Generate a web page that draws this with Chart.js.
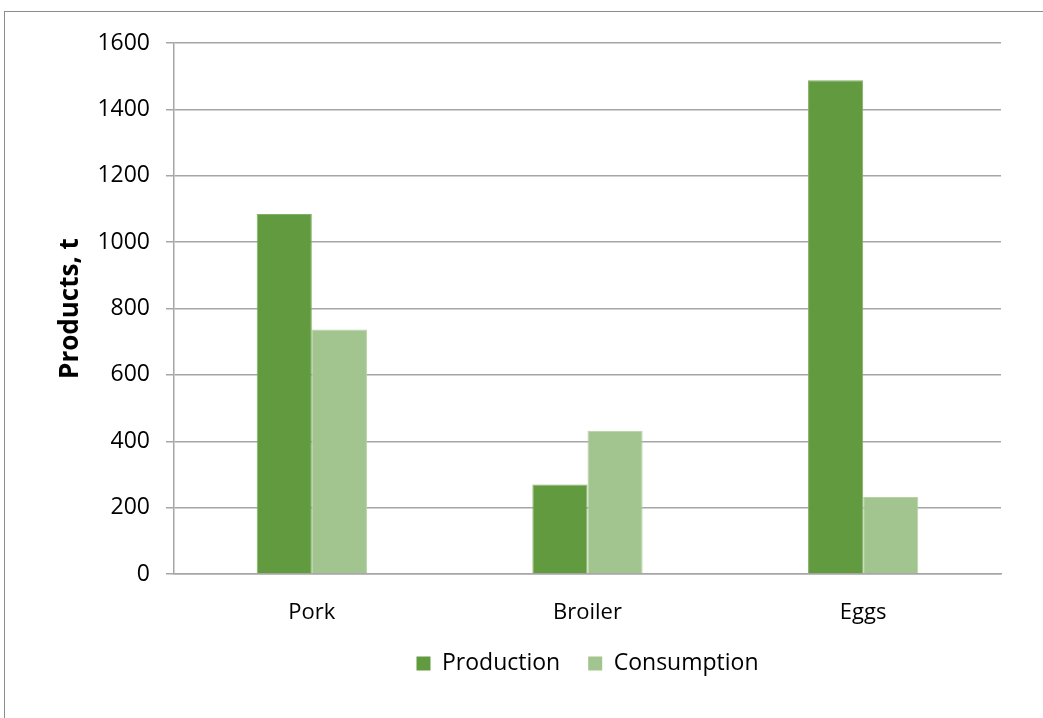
<!DOCTYPE html>
<html>
<head>
<meta charset="utf-8">
<script src="https://cdn.jsdelivr.net/npm/chart.js@4"></script>
<style>
  html, body { margin: 0; padding: 0; background: #fff; overflow: hidden; }
  #frame { position: absolute; left: 4px; top: 11px; width: 1200px; height: 900px; border: 1px solid #8c8c8c; }
  #wrap { position: absolute; left: 0; top: 0; width: 1043px; height: 718px; }
</style>
</head>
<body>
<div id="frame"></div>
<div id="wrap"><canvas id="chart"></canvas></div>
<script>
const categorias = ['Pork', 'Broiler', 'Eggs'];
const producao = [1085, 270, 1488];
const consumo = [737, 432, 232];
const yTicks = [0, 200, 400, 600, 800, 1000, 1200, 1400, 1600];

const fontFamily = "'Open Sans', sans-serif";
const gridColor = '#a6a6a6';

new Chart(document.getElementById('chart'), {
  type: 'bar',
  data: {
    labels: categorias,
    datasets: [
      {
        label: 'Production',
        data: producao,
        backgroundColor: '#629a40',
        borderColor: '#82b065',
        borderWidth: 1,
        categoryPercentage: 0.4,
        barPercentage: 1.0,
      },
      {
        label: 'Consumption',
        data: consumo,
        backgroundColor: '#a2c48f',
        borderColor: '#b6d2a6',
        borderWidth: 1,
        categoryPercentage: 0.4,
        barPercentage: 1.0,
      }
    ]
  },
  options: {
    responsive: true,
    maintainAspectRatio: false,
    animation: false,
    layout: { padding: { top: 43, right: 42, bottom: 33, left: 0 } },
    plugins: {
      legend: {
        position: 'bottom',
        fullSize: false,
        labels: {
          color: '#000',
          font: { family: fontFamily, size: 23 },
          boxWidth: 14,
          boxHeight: 14,
          padding: 28,
          generateLabels(chart) {
            return chart.data.datasets.map((ds, i) => ({
              text: ds.label,
              fillStyle: ds.backgroundColor,
              strokeStyle: ds.backgroundColor,
              lineWidth: 0,
              datasetIndex: i,
              fontColor: '#000',
            }));
          }
        }
      },
      tooltip: { enabled: false }
    },
    scales: {
      x: {
        afterFit(scale) { scale.height = 50; },
        grid: { display: false },
        border: { display: true, color: gridColor, width: 1.5 },
        ticks: { color: '#000', font: { family: fontFamily, size: 22 }, padding: 18 }
      },
      y: {
        min: 0,
        max: 1600,
        afterFit(scale) { scale.width = 174; },
        afterBuildTicks(scale) { scale.ticks = yTicks.map(v => ({ value: v })); },
        grid: { color: gridColor, lineWidth: 1.5, tickLength: 8 },
        border: { display: true, color: gridColor, width: 1.5 },
        ticks: { color: '#000', font: { family: fontFamily, size: 23 }, padding: 16, callback: v => String(v) },
        title: {
          display: true,
          text: 'Products, t',
          color: '#000',
          font: { family: fontFamily, size: 26, weight: 'bold' },
          padding: { top: 55, bottom: 0 }
        }
      }
    }
  }
});
</script>
</body>
</html>
